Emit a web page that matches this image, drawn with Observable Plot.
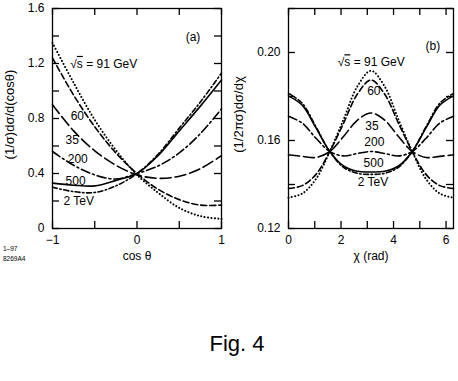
<!DOCTYPE html>
<html><head><meta charset="utf-8">
<script src="https://cdn.jsdelivr.net/npm/d3@7"></script>
<script src="https://cdn.jsdelivr.net/npm/@observablehq/plot@0.6"></script>
<style>
body{margin:0;background:#fff;font-family:"Liberation Sans",Arial,sans-serif;}
#wrap{position:relative;width:458px;height:381px;overflow:hidden;}
#pa{position:absolute;left:0;top:0}
#pb{position:absolute;left:230px;top:0}
.fig{position:absolute;left:0;width:474px;text-align:center;top:333px;font-size:22px;line-height:22px;color:#000}
.code{position:absolute;left:3px;top:244px;font-size:6.5px;line-height:9.5px;color:#000}
</style></head><body>
<div id="wrap"><div id="pa"></div><div id="pb"></div>
<div class="fig">Fig. 4</div>
<div class="code">1–97<br>8269A4</div></div>
<script>
// ---- data ----
const energies = ["91 GeV", "60", "35", "200", "500", "2 TeV"];
// panel (a): (1/σ) dσ/d(cosθ)
const cosTheta = [-1, -0.75, -0.5, -0.25, 0, 0.25, 0.5, 0.75, 1];
const a_91  = [1.35, 1.06, 0.79, 0.57, 0.39, 0.26, 0.15, 0.09, 0.07];
const a_60  = [1.24, 0.97, 0.74, 0.55, 0.40, 0.285, 0.21, 0.17, 0.17];
const a_35  = [0.90, 0.71, 0.565, 0.46, 0.39, 0.365, 0.38, 0.435, 0.53];
const a_200 = [0.56, 0.46, 0.39, 0.36, 0.40, 0.455, 0.55, 0.69, 0.87];
const a_500 = [0.33, 0.315, 0.31, 0.35, 0.40, 0.53, 0.71, 0.89, 1.08];
const a_2T  = [0.30, 0.268, 0.262, 0.31, 0.40, 0.54, 0.73, 0.92, 1.13];
// panel (b): (1/2πσ) dσ/dχ
const chi = [0, 0.524, 1.047, 1.571, 2.094, 2.618, 3.142, 3.665, 4.189, 4.712, 5.236, 5.760, 6.283];
const b_91  = [0.134, 0.1359, 0.1425, 0.155, 0.1695, 0.1845, 0.1917, 0.1845, 0.1695, 0.155, 0.1425, 0.1359, 0.134];
const b_60  = [0.1382, 0.1395, 0.1446, 0.155, 0.1678, 0.181, 0.1875, 0.181, 0.1678, 0.155, 0.1446, 0.1395, 0.1382];
const b_35  = [0.1535, 0.1528, 0.1523, 0.155, 0.1618, 0.1692, 0.1725, 0.1692, 0.1618, 0.155, 0.1523, 0.1528, 0.1535];
const b_200 = [0.171, 0.1679, 0.161, 0.155, 0.153, 0.1541, 0.155, 0.1541, 0.153, 0.155, 0.161, 0.1679, 0.171];
const b_500 = [0.1803, 0.176, 0.1657, 0.155, 0.1484, 0.146, 0.1457, 0.146, 0.1484, 0.155, 0.1657, 0.176, 0.1803];
const b_2T  = [0.1814, 0.1769, 0.1662, 0.155, 0.1478, 0.1451, 0.1446, 0.1451, 0.1478, 0.155, 0.1662, 0.1769, 0.1814];
// ticks
const xTicksA = [-1, -0.5, 0, 0.5, 1], xLabelsA = [-1, 0, 1];
const yTicksA = [0, 0.2, 0.4, 0.6, 0.8, 1.0, 1.2, 1.4, 1.6], yLabelsA = [0, 0.4, 0.8, 1.2, 1.6];
const xTicksB = [0, 1, 2, 3, 4, 5, 6], xLabelsB = [0, 2, 4, 6];
const yTicksB = [0.12, 0.14, 0.16, 0.18, 0.20, 0.22], yLabelsB = [0.12, 0.16, 0.20];
// curve labels
const curveLabelsA = [
  {t: "√s = 91 GeV", x: -0.79, y: 1.196}, {t: "60", x: -0.785, y: 0.815}, {t: "35", x: -0.845, y: 0.639},
  {t: "200", x: -0.82, y: 0.506}, {t: "500", x: -0.845, y: 0.345}, {t: "2 TeV", x: -0.87, y: 0.200}];
const curveLabelsB = [
  {t: "√s = 91 GeV", x: 3.15, y: 0.1955}, {t: "60", x: 3.25, y: 0.1826}, {t: "35", x: 3.18, y: 0.1667},
  {t: "200", x: 3.27, y: 0.1591}, {t: "500", x: 3.24, y: 0.1497}, {t: "2 TeV", x: 3.22, y: 0.1409}];

// ---- styles ----
const styles = {
  "91 GeV": {strokeDasharray: "0.1,3.3", strokeLinecap: "round", strokeWidth: 2},
  "60": {strokeDasharray: "6,3"},
  "35": {strokeDasharray: "11,4"},
  "200": {strokeDasharray: "9,3,2,3"},
  "500": {},
  "2 TeV": {strokeDasharray: "5,2.5,1.5,2.5"}
};
const FONT = "Liberation Sans, Arial, Helvetica, sans-serif";

function rows(xs, ys) { return xs.map((x, i) => ({x, y: ys[i]})); }
const fmtNum = d => d < 0 ? "\u2212" + Math.abs(d) : String(d);

function panel({width, height, mL, mR, mT, mB, xDomain, yDomain, xTicks, xLabels, yTicks, yLabels,
                xFmt, yFmt, series, xTitle, yTitle, tag, tagPos, labels, ytDx, startLabels}) {
  const fw = width - mL - mR, fh = height - mT - mB, tl = 7;
  const marks = [];
  series.forEach(s => marks.push(Plot.line(s.data, {x: "x", y: "y", curve: "catmull-rom", stroke: "black",
    strokeWidth: 1.6, ...styles[s.energy]})));
  marks.push(
    Plot.frame({stroke: "black", strokeWidth: 1.3}),
    Plot.tickX(xTicks, {x: d => d, insetTop: fh - tl, stroke: "black", strokeWidth: 1.3}),
    Plot.tickX(xTicks, {x: d => d, insetBottom: fh - tl, stroke: "black", strokeWidth: 1.3}),
    Plot.tickY(yTicks, {y: d => d, insetRight: fw - tl, stroke: "black", strokeWidth: 1.3}),
    Plot.tickY(yTicks, {y: d => d, insetLeft: fw - tl, stroke: "black", strokeWidth: 1.3}),
    Plot.axisX({ticks: xLabels, tickSize: 0, tickPadding: 7, tickFormat: xFmt, fontSize: 12, label: null}),
    Plot.axisY({ticks: yLabels, tickSize: 0, tickPadding: 8, tickFormat: yFmt, fontSize: 12, label: null}),
    Plot.text([xTitle], {frameAnchor: "bottom", dy: 28, lineAnchor: "middle", textAnchor: "middle", fontSize: 12, fill: "black"}),
    Plot.text([yTitle], {frameAnchor: "left", rotate: -90, dx: ytDx, dy: -4, textAnchor: "middle", lineAnchor: "middle", fontSize: 13, fill: "black"}),
    Plot.text([tag], {x: tagPos[0], y: tagPos[1], fontSize: 12, fill: "black"}),
    Plot.text(labels, {x: "x", y: "y", text: "t", fontSize: 12, fill: "black",
      textAnchor: startLabels ? "start" : "middle"})
  );
  const svg = Plot.plot({
    width, height, marginLeft: mL, marginRight: mR, marginTop: mT, marginBottom: mB,
    style: {fontFamily: FONT, fontSize: "12px", background: "white", color: "black"},
    x: {domain: xDomain, label: null},
    y: {domain: yDomain, label: null},
    marks
  });
  // radical overline on "s"
  d3.select(svg).selectAll("text").filter(function () { return this.textContent.startsWith("√s"); })
    .each(function () {
      const el = d3.select(this);
      el.text("");
      el.append("tspan").text("√");
      el.append("tspan").attr("text-decoration", "overline").text("s");
      el.append("tspan").text(" = 91 GeV");
    });
  return svg;
}

const seriesA = [a_91, a_60, a_35, a_200, a_500, a_2T].map((v, i) => ({energy: energies[i], data: rows(cosTheta, v)}));
const seriesB = [b_91, b_60, b_35, b_200, b_500, b_2T].map((v, i) => ({energy: energies[i], data: rows(chi, v)}));

document.getElementById("pa").appendChild(panel({
  width: 230, height: 270, mL: 52, mR: 9, mT: 8, mB: 42,
  xDomain: [-1, 1], yDomain: [0, 1.6], xTicks: xTicksA, xLabels: xLabelsA, yTicks: yTicksA, yLabels: yLabelsA,
  xFmt: fmtNum, yFmt: d => String(d), series: seriesA,
  xTitle: "cos θ", yTitle: "(1/σ)dσ/d(cosθ)", tag: "(a)", tagPos: [0.663, 1.394], labels: curveLabelsA,
  ytDx: -43, startLabels: true
}));
document.getElementById("pb").appendChild(panel({
  width: 228, height: 270, mL: 58, mR: 5, mT: 8, mB: 42,
  xDomain: [0, 2 * Math.PI], yDomain: [0.12, 0.22], xTicks: xTicksB, xLabels: xLabelsB, yTicks: yTicksB, yLabels: yLabelsB,
  xFmt: d => String(d), yFmt: d => d.toFixed(2), series: seriesB,
  xTitle: "χ (rad)", yTitle: "(1/2πσ)dσ/dχ", tag: "(b)", tagPos: [5.5, 0.203], labels: curveLabelsB,
  ytDx: -50, startLabels: false
}));
</script>
</body></html>
